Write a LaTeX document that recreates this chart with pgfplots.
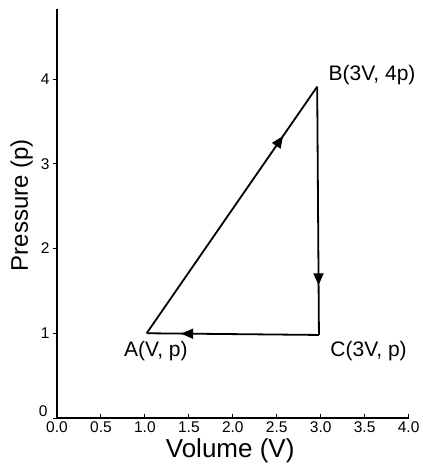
\documentclass[border=0pt]{standalone}
\usepackage{pgfplots}
\pgfplotsset{compat=1.18}
\usepackage{fontspec}
\setmainfont{Liberation Sans}
\usetikzlibrary{decorations.markings,arrows.meta}

\begin{document}
\begin{tikzpicture}
\begin{axis}[
    anchor=origin, at={(0,0)},
    scale only axis,
    width=351.6bp, height=409.3bp,
    xmin=0, xmax=4,
    ymin=0, ymax=4.83,
    axis x line=bottom, axis y line=left,
    axis line style={-, line width=1.4bp},
    xtick={0,0.5,1,1.5,2,2.5,3,3.5,4},
    ytick={1,2,3,4},
    extra y ticks={0},
    extra y tick style={yticklabel style={yshift=7bp, xshift=-2bp}},
    xtick align=inside, ytick align=outside,
    major tick length=4bp,
    tick style={line width=0.9bp, black},
    xticklabel style={/pgf/number format/.cd, fixed, fixed zerofill, precision=1},
    /pgf/number format/assume math mode=true,
    tick label style={font=\fontsize{15.5bp}{18bp}\selectfont},
    xlabel={Volume (V)},
    ylabel={Pressure (p)},
    xlabel style={at={(axis cs:1.97,-0.472)}, anchor=base, font=\fontsize{26bp}{30bp}\selectfont},
    ylabel style={at={(axis cs:-0.33,2.51)}, anchor=base, font=\fontsize{24bp}{28bp}\selectfont},
    clip=false,
    every axis plot/.append style={black, line width=1.8bp},
    arrowmid/.style={postaction={decorate}, decoration={markings,
        mark=at position 0.8 with {\arrow{Triangle[length=12bp,width=10bp]}}}},
]
% A -> B
\addplot[arrowmid] coordinates {(1.02,1.00)(2.96,3.91)};
% B -> C
\addplot[arrowmid] coordinates {(2.96,3.91)(2.98,0.98)};
% C -> A
\addplot[arrowmid] coordinates {(2.98,0.98)(1.02,1.00)};

\node[anchor=base west, font=\fontsize{21bp}{25bp}\selectfont] at (axis cs:2.96,3.91) [xshift=8bp, yshift=6bp] {B(3V, 4p)};
\node[anchor=base west, font=\fontsize{21bp}{25bp}\selectfont] at (axis cs:1.02,1.00) [xshift=-26bp, yshift=-23bp] {A(V, p)};
\node[anchor=base west, font=\fontsize{21bp}{25bp}\selectfont] at (axis cs:2.98,0.98) [xshift=8bp, yshift=-22bp] {C(3V, p)};
\end{axis}
\pgfresetboundingbox
\path (-57bp,-50bp) rectangle (366bp,418bp);
\end{tikzpicture}
\end{document}
